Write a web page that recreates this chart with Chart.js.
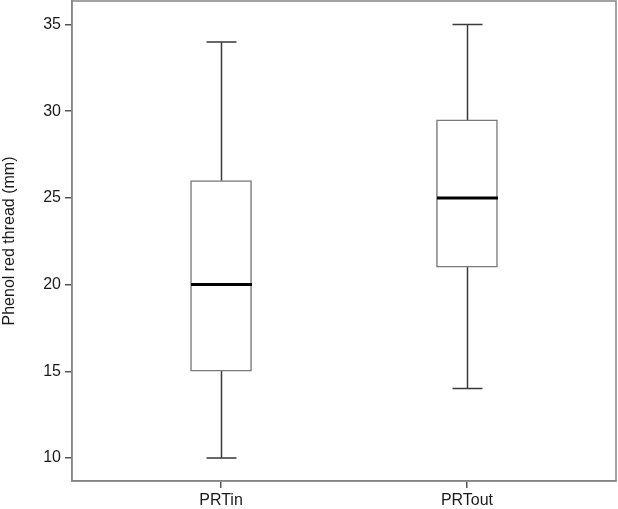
<!DOCTYPE html>
<html>
<head>
<meta charset="utf-8">
<script src="https://cdn.jsdelivr.net/npm/chart.js@4/dist/chart.umd.min.js"></script>
<style>
  html, body { margin: 0; padding: 0; background: #fff; }
  #wrap { width: 618px; height: 509px; }
</style>
</head>
<body>
<div id="wrap"><canvas id="boxChart" width="618" height="509"></canvas></div>
<script>
// box plot values
const categories = ['PRTin', 'PRTout'];
const positions = [1, 2];
const whiskerLow = [10, 14];
const quartile1 = [15, 21];
const medians = [20, 25];
const quartile3 = [26, 29.5];
const whiskerHigh = [34, 35];
const yTicks = [10, 15, 20, 25, 30, 35];

// whiskers, caps, medians and the frame around the plot
const boxExtras = {
  id: 'boxExtras',
  afterDatasetsDraw(chart) {
    const { ctx, scales: { x, y }, chartArea } = chart;
    ctx.save();
    positions.forEach((p, i) => {
      const cx = Math.round(x.getPixelForValue(p)) + 0.5;
      const capHalf = 15;
      const boxHalf = 30.5;
      ctx.strokeStyle = '#3a3a3a';
      ctx.lineWidth = 1.5;
      ctx.beginPath();
      ctx.moveTo(cx, y.getPixelForValue(whiskerHigh[i]));
      ctx.lineTo(cx, y.getPixelForValue(quartile3[i]));
      ctx.moveTo(cx, y.getPixelForValue(quartile1[i]));
      ctx.lineTo(cx, y.getPixelForValue(whiskerLow[i]));
      ctx.moveTo(cx - capHalf, y.getPixelForValue(whiskerHigh[i]));
      ctx.lineTo(cx + capHalf, y.getPixelForValue(whiskerHigh[i]));
      ctx.moveTo(cx - capHalf, y.getPixelForValue(whiskerLow[i]));
      ctx.lineTo(cx + capHalf, y.getPixelForValue(whiskerLow[i]));
      ctx.stroke();
      ctx.strokeStyle = '#000';
      ctx.lineWidth = 3;
      ctx.beginPath();
      ctx.moveTo(cx - boxHalf, y.getPixelForValue(medians[i]));
      ctx.lineTo(cx + boxHalf, y.getPixelForValue(medians[i]));
      ctx.stroke();
    });
    ctx.strokeStyle = '#858585';
    ctx.lineWidth = 1.5;
    ctx.strokeRect(chartArea.left, chartArea.top, chartArea.right - chartArea.left, chartArea.bottom - chartArea.top);
    ctx.restore();
  }
};

const ctx = document.getElementById('boxChart').getContext('2d');
new Chart(ctx, {
  type: 'bar',
  data: {
    datasets: [{
      data: positions.map((p, i) => ({ x: p, y: [quartile1[i], quartile3[i]] })),
      backgroundColor: '#ffffff',
      borderColor: '#7a7a7a',
      borderWidth: 1.5,
      borderSkipped: false,
      barThickness: 61
    }]
  },
  plugins: [boxExtras],
  options: {
    responsive: false,
    animation: false,
    layout: { padding: { top: 1, right: 2, left: 0, bottom: 0 } },
    plugins: {
      legend: { display: false },
      tooltip: { enabled: false }
    },
    scales: {
      x: {
        type: 'linear',
        offset: false,
        min: 0.394,
        max: 2.606,
        afterBuildTicks: s => { s.ticks = positions.map(v => ({ value: v })); },
        afterFit: s => { s.height = 28; s.paddingLeft = 0; s.paddingRight = 0; },
        ticks: {
          callback: (v) => categories[positions.indexOf(v)] || '',
          color: '#1a1a1a',
          font: { family: 'Liberation Sans, Arial, sans-serif', size: 16 },
          padding: 3,
          maxRotation: 0
        },
        grid: { offset: false, drawOnChartArea: false, tickLength: 7, color: '#555', lineWidth: 1.5 },
        border: { color: '#858585', width: 1.5 }
      },
      y: {
        min: 8.67,
        max: 36.36,
        afterBuildTicks: s => { s.ticks = yTicks.map(v => ({ value: v })); },
        afterFit: s => { s.width = 72; s.paddingTop = 0; s.paddingBottom = 0; },
        ticks: {
          color: '#1a1a1a',
          font: { family: 'Liberation Sans, Arial, sans-serif', size: 16 },
          padding: 4
        },
        grid: { drawOnChartArea: false, tickLength: 7, color: '#555', lineWidth: 1.5 },
        border: { color: '#858585', width: 1.5 },
        title: {
          display: true,
          text: 'Phenol red thread (mm)',
          color: '#1a1a1a',
          font: { family: 'Liberation Sans, Arial, sans-serif', size: 16 },
          padding: { top: 0, bottom: 0 }
        }
      }
    }
  }
});
</script>
</body>
</html>
